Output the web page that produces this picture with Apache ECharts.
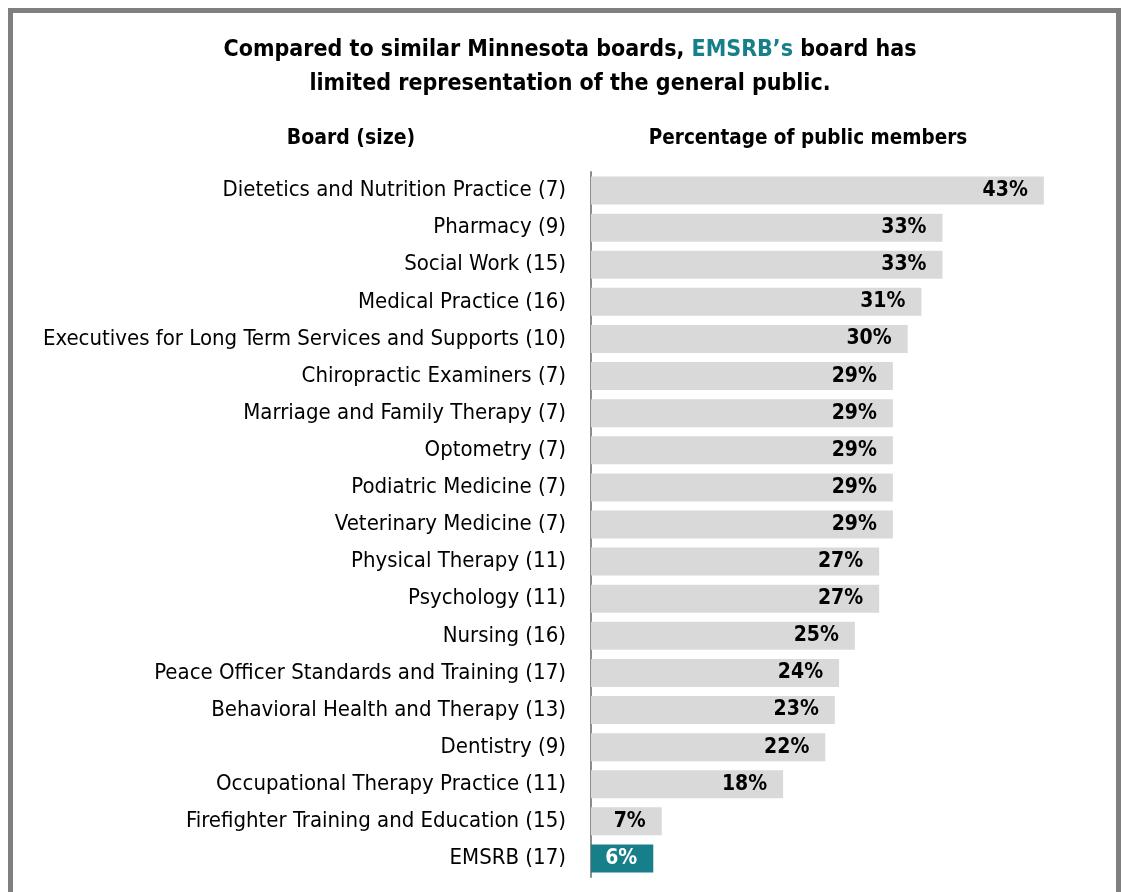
<!DOCTYPE html>
<html>
<head>
<meta charset="utf-8">
<script src="https://cdn.jsdelivr.net/npm/echarts@6/dist/echarts.min.js"></script>
<style>
  html, body { margin: 0; padding: 0; background: #fff; }
  .frame {
    position: absolute; left: 8px; top: 8px; width: 1113px; height: 900px;
    border: 5px solid #7f7f7f; box-sizing: border-box; border-bottom: none;
  }
  #chart { position: absolute; left: 0; top: 0; width: 1121px; height: 892px; }
</style>
</head>
<body>
<div class="frame"></div>
<div id="chart"></div>
<script>
// 董事会（规模）
var boards = [
  'Dietetics and Nutrition Practice (7)',
  'Pharmacy (9)',
  'Social Work (15)',
  'Medical Practice (16)',
  'Executives for Long Term Services and Supports (10)',
  'Chiropractic Examiners (7)',
  'Marriage and Family Therapy (7)',
  'Optometry (7)',
  'Podiatric Medicine (7)',
  'Veterinary Medicine (7)',
  'Physical Therapy (11)',
  'Psychology (11)',
  'Nursing (16)',
  'Peace Officer Standards and Training (17)',
  'Behavioral Health and Therapy (13)',
  'Dentistry (9)',
  'Occupational Therapy Practice (11)',
  'Firefighter Training and Education (15)',
  'EMSRB (17)'
];
// 公众成员占比 (%)
var publicPct = [42.9, 33.3, 33.3, 31.3, 30.0, 28.6, 28.6, 28.6, 28.6, 28.6,
  27.3, 27.3, 25.0, 23.5, 23.1, 22.2, 18.2, 6.7, 5.9];
var highlight = 'EMSRB (17)';

var font = '"Liberation Sans Narrow", "DejaVu Sans Condensed", "Liberation Sans", Arial, sans-serif';
var teal = '#167f8a';

var chart = echarts.init(document.getElementById('chart'));

var option = {
  animation: false,
  textStyle: { fontFamily: font },
  title: [{
    text: 'Compared to similar Minnesota boards, {t|EMSRB\u2019s} board has\nlimited representation of the general public.',
    left: 565, top: 28, textAlign: 'center',
    textStyle: {
      fontFamily: font, fontSize: 23, fontWeight: 'bold', color: '#000', lineHeight: 34,
      rich: { t: { fontFamily: font, fontSize: 23, fontWeight: 'bold', color: teal } }
    }
  }, {
    text: 'Board (size)',
    left: 346, top: 123, textAlign: 'center',
    textStyle: { fontFamily: font, fontSize: 21, fontWeight: 'bold', color: '#000' }
  }, {
    text: 'Percentage of public members',
    left: 803, top: 123, textAlign: 'center',
    textStyle: { fontFamily: font, fontSize: 20.5, fontWeight: 'bold', color: '#000' }
  }],
  grid: { left: 591, top: 172, width: 475, height: 705, containLabel: false },
  xAxis: {
    type: 'value', min: 0, max: 45,
    show: false
  },
  yAxis: {
    type: 'category', data: boards, inverse: true,
    axisLine: { show: true, lineStyle: { color: '#8c8c8c', width: 2 } },
    axisTick: { show: false },
    axisLabel: { fontFamily: font, fontSize: 22, color: '#000', margin: 25 }
  },
  series: [{
    type: 'bar',
    barWidth: 28,
    data: publicPct.map(function (v, i) {
      var hi = boards[i] === highlight;
      return {
        value: v,
        itemStyle: { color: hi ? teal : '#d9d9d9' },
        label: { color: hi ? '#fff' : '#000' }
      };
    }),
    label: {
      show: true, position: 'insideRight', distance: 16,
      fontFamily: font, fontSize: 21, fontWeight: 'bold',
      formatter: function (p) { return Math.round(p.value) + '%'; }
    }
  }]
};
chart.setOption(option);
</script>
</body>
</html>
